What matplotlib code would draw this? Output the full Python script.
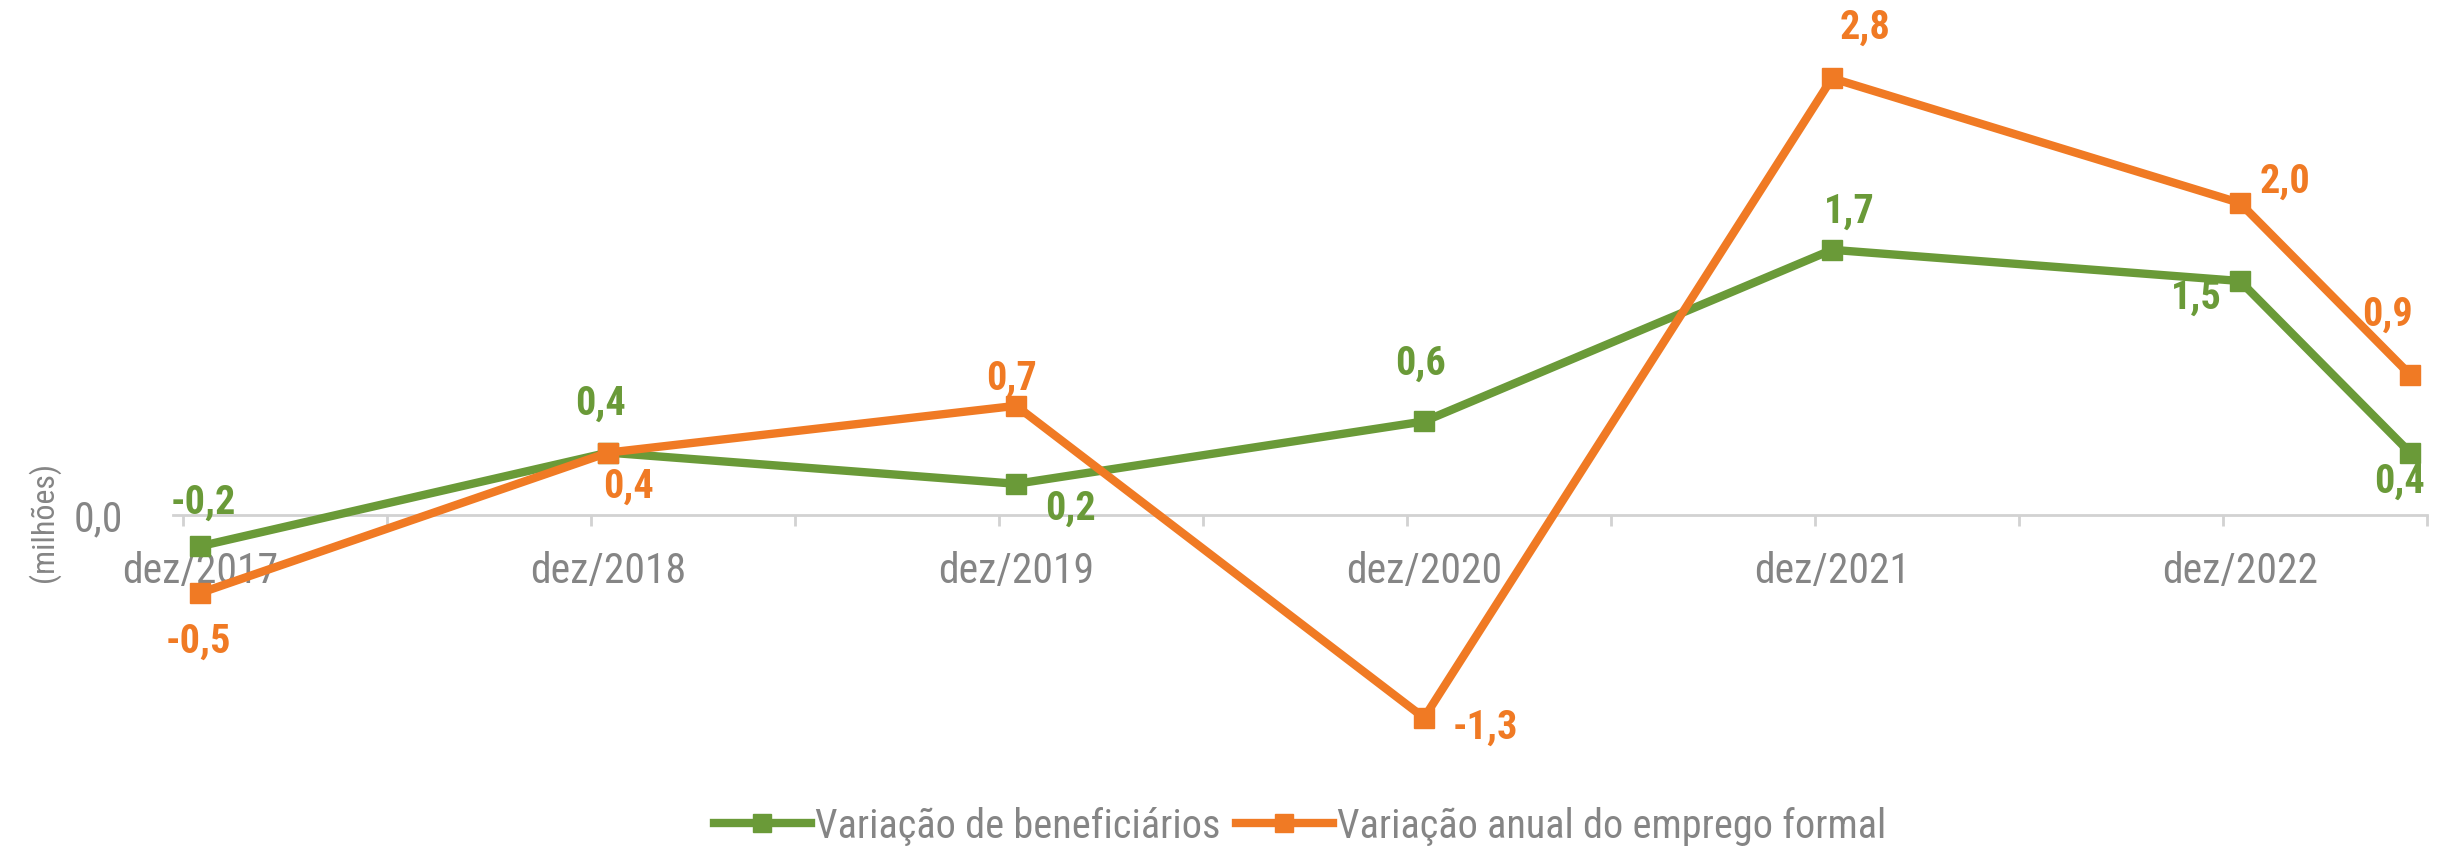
import matplotlib
matplotlib.use("Agg")
import matplotlib.pyplot as plt
from matplotlib import font_manager
from matplotlib.lines import Line2D

# ---- data ----
months = [0, 12, 24, 36, 48, 60, 65]          # months since dez/2017 (last point: mai/2023)
beneficiarios = [-0.2, 0.4, 0.2, 0.6, 1.7, 1.5, 0.4]
emprego = [-0.5, 0.4, 0.7, -1.3, 2.8, 2.0, 0.9]
ben_labels = ["-0,2", "0,4", "0,2", "0,6", "1,7", "1,5", "0,4"]
emp_labels = ["-0,5", "0,4", "0,7", "-1,3", "2,8", "2,0", "0,9"]
tick_pos = [0, 12, 24, 36, 48, 60]
tick_labels = ["dez/2017", "dez/2018", "dez/2019", "dez/2020", "dez/2021", "dez/2022"]
legend_labels = ["Variação de beneficiários", "Variação anual do emprego formal"]

GREEN = "#6a9a38"
ORANGE = "#f07a24"
GRAY = "#858585"


def pick_font(cands):
    for c in cands:
        try:
            font_manager.findfont(c, fallback_to_default=False)
            return c
        except Exception:
            pass
    return "DejaVu Sans"


FONT = pick_font(["Liberation Sans Narrow", "Roboto Condensed", "Arial Narrow", "Liberation Sans"])
plt.rcParams["font.family"] = [FONT, "DejaVu Sans"]

W, H = 2443, 851
fig = plt.figure(figsize=(W / 100, H / 100), dpi=100)

# axes geometry in pixels
x0_px, x1_px = 173, 2427
xmin, xmax = -0.8, 65.5
y0_px = 515          # pixel row of zero
ppu = 156            # pixels per unit
ymax = y0_px / ppu
ymin = -(H - y0_px) / ppu
ax = fig.add_axes([x0_px / W, 0, (x1_px - x0_px) / W, 1])
ax.set_xlim(xmin, xmax)
ax.set_ylim(ymin, ymax)

for s in ["top", "right", "left"]:
    ax.spines[s].set_visible(False)
ax.spines["bottom"].set_position(("data", 0))
ax.spines["bottom"].set_color("#d2d2d2")
ax.spines["bottom"].set_linewidth(2)

ax.set_xticks(tick_pos)
ax.set_xticklabels(tick_labels)
ax.tick_params(axis="x", which="major", length=0, pad=26, labelsize=30, labelcolor=GRAY)
ax.set_xticks([-0.5 + 6 * k for k in range(12)], minor=True)
ax.tick_params(axis="x", which="minor", length=8, width=2, color="#d2d2d2", direction="out")

ax.set_yticks([0])
ax.set_yticklabels(["0,0"])
ax.tick_params(axis="y", length=0, pad=36, labelsize=30, labelcolor=GRAY)

fig.text(44 / W, 1 - 522 / H, "(milhões)", rotation=90, ha="center", va="center",
         fontsize=23, color=GRAY)

ax.plot(months, beneficiarios, color=GREEN, lw=6, marker="s", ms=14, zorder=3)
ax.plot(months, emprego, color=ORANGE, lw=6, marker="s", ms=14, zorder=4)

# label offsets in pixels (dx, dy up)
ben_off = [(3, 43), (-8, 49), (54, -25), (-4, 58), (17, 38), (-44, -17), (-11, -29)]
emp_off = [(-2, -49), (20, -34), (-5, 27), (61, -10), (33, 50), (45, 21), (-23, 60)]

for x, y, t, (dx, dy) in zip(months, beneficiarios, ben_labels, ben_off):
    ax.annotate(t, (x, y), xytext=(dx * 0.72, dy * 0.72), textcoords="offset points",
                ha="center", va="center", fontsize=29, fontweight="bold", color=GREEN, zorder=6)
for x, y, t, (dx, dy) in zip(months, emprego, emp_labels, emp_off):
    ax.annotate(t, (x, y), xytext=(dx * 0.72, dy * 0.72), textcoords="offset points",
                ha="center", va="center", fontsize=29, fontweight="bold", color=ORANGE, zorder=6)

handles = [Line2D([], [], color=GREEN, lw=6, marker="s", ms=13),
           Line2D([], [], color=ORANGE, lw=6, marker="s", ms=13)]
fig.legend(handles, legend_labels, loc="center", bbox_to_anchor=(1300 / W, 1 - 826 / H),
           ncol=2, frameon=False, fontsize=29, labelcolor=GRAY, handlelength=2.4,
           handletextpad=0.1, columnspacing=0.4)

fig.savefig("out.png", dpi=100)
